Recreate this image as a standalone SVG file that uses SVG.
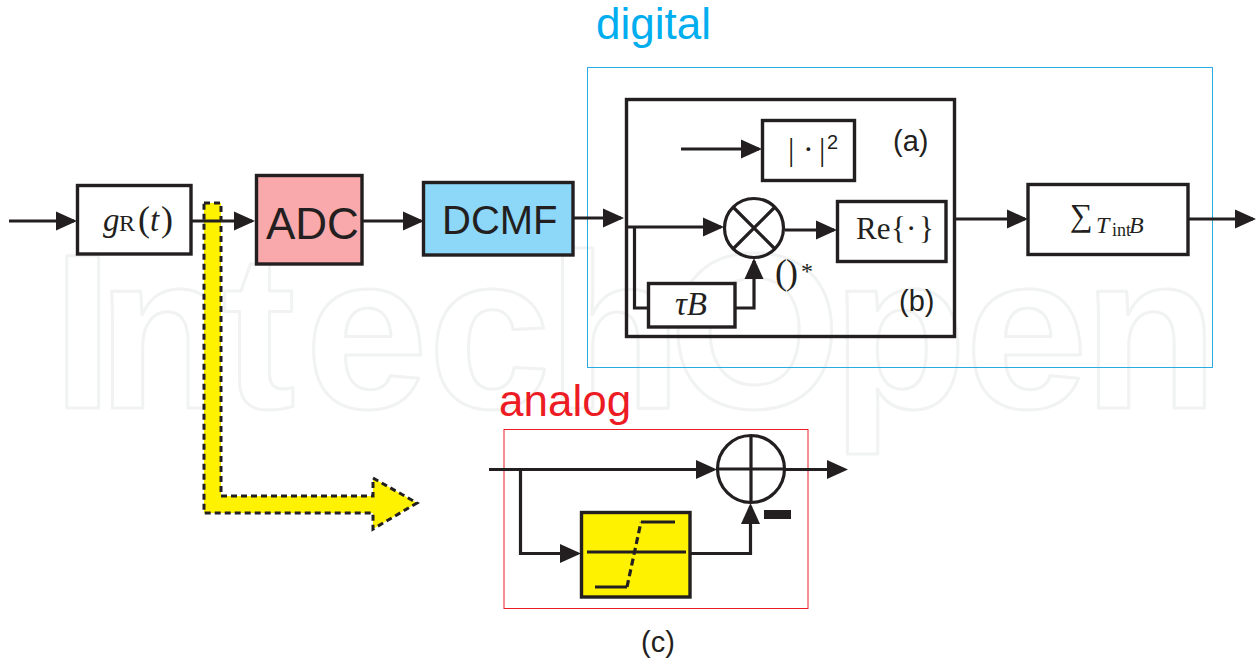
<svg xmlns="http://www.w3.org/2000/svg" width="1258" height="661" viewBox="0 0 1258 661">
<style>
.box{stroke:#231f20;stroke-width:3.4;fill:#fff}
.c{fill:none;stroke:#231f20;stroke-width:3.2}
.s{font-family:"Liberation Sans",Arial,sans-serif;fill:#231f20}
.m{font-family:"Liberation Serif","Times New Roman",serif;fill:#231f20}
.i{font-style:italic}
</style>
<defs>
<marker id="a" markerUnits="userSpaceOnUse" markerWidth="22" markerHeight="20" refX="18" refY="10" orient="auto"><path d="M0,0.500 L21,10 L0,19.500 Z" fill="#231f20"/></marker>
</defs>
<rect width="1258" height="661" fill="#fff"/>
<text id="watermark" x="52 97 222 305 428 547 669 832 965 1083" y="408" font-family="Liberation Sans,Arial,sans-serif" font-weight="700" font-size="221" fill="none" stroke="#f1f2f2" stroke-width="3" stroke-linejoin="round">IntechOpen</text>
<g id="digital-region">
<rect x="587.500" y="67.500" width="625" height="300" fill="none" stroke="#29abe2" stroke-width="1"/>
<text x="596" y="39" font-family="Liberation Sans,Arial,sans-serif" font-size="44" fill="#00aeef">digital</text>
</g>
<g id="analog-region">
<rect x="504" y="429.500" width="304" height="179" fill="none" stroke="#ed1c24" stroke-width="1"/>
<text x="499" y="416" font-family="Liberation Sans,Arial,sans-serif" font-size="44" fill="#ed1c24">analog</text>
</g>
<g id="yellow-arrow">
<path d="M204,203 H221 V496 H373 V478 L417,503 L373,529 V513 H204 Z" fill="#fff200" stroke="#231f20" stroke-width="3" stroke-dasharray="6 4"/>
</g>
<g id="gr"><rect class="box" x="77.500" y="185.500" width="113.500" height="68.500"/>
<text class="m" y="231" font-size="33"><tspan class="i" x="103">g</tspan><tspan font-size="24" x="119">R</tspan><tspan x="138" font-size="36">(</tspan><tspan class="i" x="150">t</tspan><tspan font-size="36" x="161">)</tspan></text></g>
<g id="adc"><rect class="box" x="256.500" y="175.500" width="105.500" height="88.500" style="fill:#f9a9ac"/>
<text class="s" x="266" y="239" font-size="44">ADC</text></g>
<g id="dcmf"><rect class="box" x="423.500" y="182.500" width="149.500" height="72.500" style="fill:#8dd8f8"/>
<text class="s" x="442" y="234" font-size="40">DCMF</text></g>
<g id="detector"><rect class="box" x="626.500" y="99.500" width="328" height="237" style="fill:none"/>
<text class="s" x="893" y="151" font-size="29">(a)</text>
<text class="s" x="899" y="311" font-size="29">(b)</text></g>
<g id="abs"><rect class="box" x="762.500" y="120.500" width="92" height="60"/>
<text class="m" y="160" font-size="32"><tspan x="788">|</tspan><tspan x="803">·</tspan><tspan x="819">|</tspan><tspan x="827" y="149" font-family="Liberation Sans,Arial,sans-serif" font-size="20">2</tspan></text></g>
<g id="mult"><circle class="c" cx="754" cy="228" r="29.500"/><path class="c" d="M733,207 L775,249 M775,207 L733,249"/>
<text class="m" y="284" font-size="36"><tspan x="775">(</tspan><tspan x="786">)</tspan><tspan font-size="24" x="801" y="279">*</tspan></text></g>
<g id="re"><rect class="box" x="837.500" y="201.500" width="108.500" height="60"/>
<text class="m" y="239" font-size="31"><tspan x="856">Re</tspan><tspan x="891">{</tspan><tspan x="906">·</tspan><tspan x="919">}</tspan></text></g>
<g id="tau"><rect class="box" x="648.500" y="283.500" width="86.500" height="43.500"/>
<text class="m i" x="675" y="315" font-size="33">τB</text></g>
<g id="sum"><rect class="box" x="1028" y="184.500" width="160" height="70"/>
<text class="m" y="226" font-size="32"><tspan x="1070">∑</tspan><tspan class="i" font-size="24" x="1096" y="233">T</tspan><tspan font-size="18" x="1112" y="236">int</tspan><tspan class="i" font-size="24" x="1129" y="233">B</tspan></text></g>
<g id="limiter"><rect class="box" x="581.500" y="512.500" width="108.500" height="84.500" style="fill:#fff200"/>
<path class="c" d="M587,552 H686 M595,587 H627 M641,522 H675"/>
<path class="c" d="M627,587 L641,522" stroke-dasharray="7 4"/></g>
<g id="adder"><circle class="c" cx="751" cy="469" r="33.500"/><path class="c" d="M751,436 V502 M717.500,469 H784.500"/>
<rect x="764" y="510" width="27" height="9" fill="#231f20"/></g>
<g id="connectors">
<path class="c" marker-end="url(#a)" d="M9,221 H74"/>
<path class="c" marker-end="url(#a)" d="M191,221 H252"/>
<path class="c" marker-end="url(#a)" d="M362,221 H421"/>
<path class="c" marker-end="url(#a)" d="M573,218 H621"/>
<path class="c" marker-end="url(#a)" d="M681,149 H759"/>
<path class="c" marker-end="url(#a)" d="M627,227 H721"/>
<path class="c" d="M634.500,227 V308 H648"/>
<path class="c" marker-end="url(#a)" d="M735,308 H754 V261"/>
<path class="c" marker-end="url(#a)" d="M785,230 H834"/>
<path class="c" marker-end="url(#a)" d="M955,219 H1025"/>
<path class="c" marker-end="url(#a)" d="M1188,219 H1253"/>
<path class="c" marker-end="url(#a)" d="M489,469.500 H714"/>
<path class="c" marker-end="url(#a)" d="M784,469.500 H845"/>
<path class="c" marker-end="url(#a)" d="M520.500,469.500 V553.500 H578"/>
<path class="c" marker-end="url(#a)" d="M690,553.500 H750.500 V506"/>
</g>
<text id="label-c" class="s" x="641" y="652" font-size="29">(c)</text>
</svg>
